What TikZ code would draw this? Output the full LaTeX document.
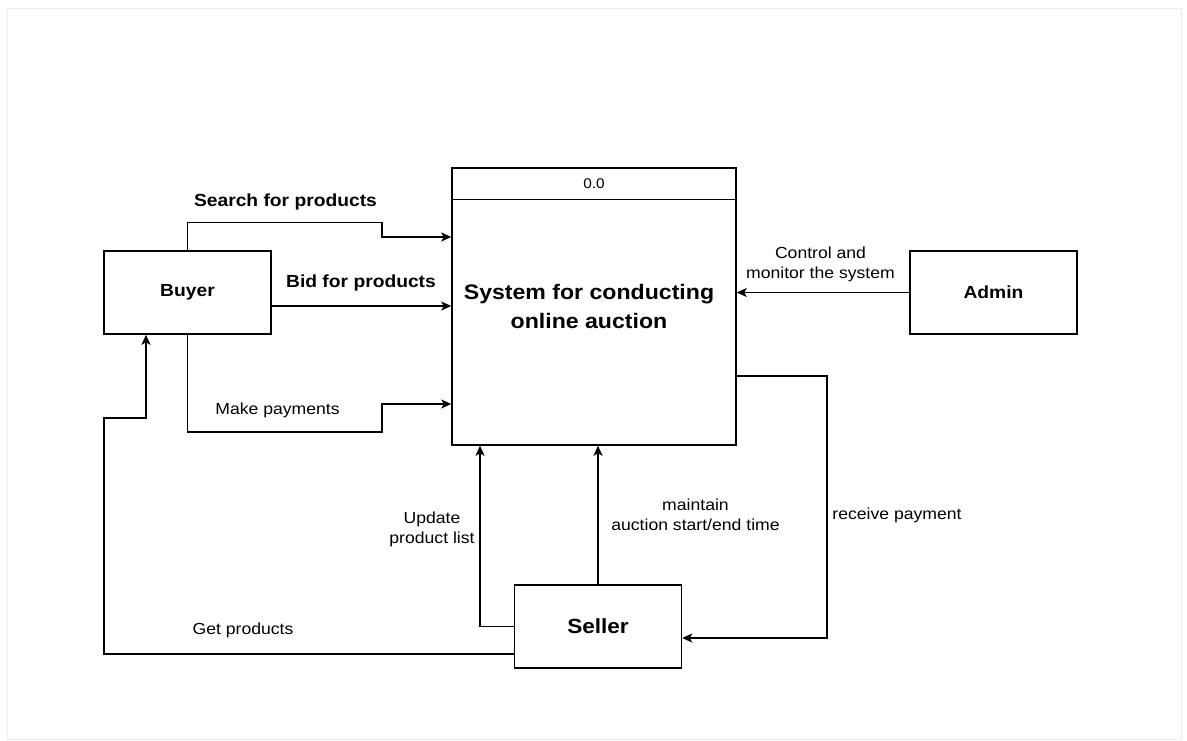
\documentclass[tikz,border=0pt]{standalone}
\usepackage{fontspec}
\setmainfont{Liberation Sans}[FakeStretch=1.1]
\usetikzlibrary{arrows.meta}
\tikzset{
  entity/.style={draw, line width=1.5pt, minimum width=167pt, minimum height=83pt, inner sep=0pt, font=\bfseries\fontsize{17.5}{21}\selectfont},
  flow/.style={draw, line width=1.5pt, -{Stealth[length=10pt,width=9pt,inset=2.5pt]}},
  blabel/.style={inner sep=0pt, align=center, font=\bfseries\fontsize{17.5}{21}\selectfont},
  rlabel/.style={inner sep=0pt, align=center, font=\fontsize{16}{20.5}\selectfont},
}
\begin{document}
\begin{tikzpicture}[x=1pt,y=-1pt]
\useasboundingbox (0,0) rectangle (1187,740);
\draw[black!7, line width=0.8pt] (7,8) rectangle (1181,739);

% nodes
\node[entity] (buyer) at (187.5,292.5) {Buyer};
\node[entity] (admin) at (993.5,292.5) {Admin};
\node[entity, font=\bfseries\fontsize{20.5}{24}\selectfont] (seller) at (598,626.5) {Seller};
\node[draw, line width=1.5pt, minimum width=284pt, minimum height=277pt, inner sep=0pt] (sys) at (594,306.5) {};
\node[inner sep=0pt, align=center, font=\bfseries\fontsize{21}{29.5}\selectfont] (title) at (589,306.5) {System for conducting\\online auction};
\draw[line width=1.5pt] (sys.west |- 0,199.5) -- (sys.east |- 0,199.5);
\node[inner sep=0pt, font=\fontsize{14}{17}\selectfont] (num) at (594,184) {0.0};

% connectors
\draw[flow] (buyer.north) |- (382,222.5) |- (sys.west |- 0,237);
\draw[flow] (buyer.east |- 0,306) -- (sys.west |- 0,306);
\draw[flow] (buyer.south) |- (382,432) |- (sys.west |- 0,404);
\draw[flow] (admin.west) -- (sys.east |- admin.west);
\draw[flow] (sys.east |- 0,376) -| (827,638) -- (seller.east |- 0,638);
\draw[flow] (seller.west) -| (480,0 |- sys.south);
\draw[flow] (seller.north) -- (seller.north |- sys.south);
\draw[flow] (seller.west |- 0,654) -| (104,418) -| (146,0 |- buyer.south);

% labels
\node[blabel] (lsearch) at (285.5,202) {Search for products};
\node[blabel] (lbid) at (361,283) {Bid for products};
\node[rlabel] (lpay) at (277.5,410) {Make payments};
\node[rlabel] (lctrl) at (820.5,264.5) {Control and\\monitor the system};
\node[rlabel] (lupd) at (432,529.5) {Update\\product list};
\node[rlabel] (lmaint) at (695.5,515) {maintain\\auction start/end time};
\node[rlabel] (lrecv) at (897,515) {receive payment};
\node[rlabel] (lget) at (243,630) {Get products};
\end{tikzpicture}
\end{document}
